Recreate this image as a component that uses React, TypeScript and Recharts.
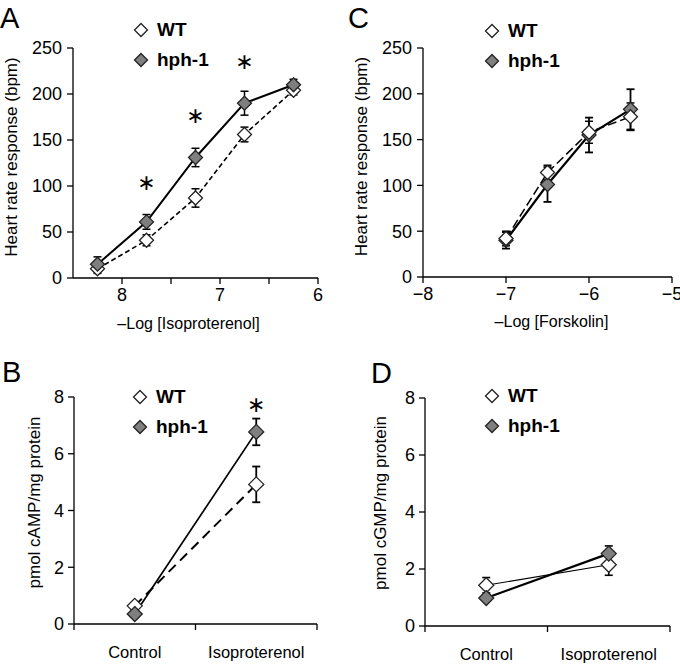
import React from 'react';
import { LineChart, Line, XAxis, YAxis, ErrorBar, ReferenceDot, Legend } from 'recharts';

const FONT = '"Liberation Sans", Arial, Helvetica, sans-serif';

// ---------- Panel A: heart rate vs -log[isoproterenol]
const isoDoses = [8.25, 7.75, 7.25, 6.75, 6.25];
const isoWT = [10, 41, 87, 156, 204];
const isoWTErr = [5, 6, 10, 8, 5];
const isoHph = [15, 61, 131, 190, 210];
const isoHphErr = [8, 8, 10, 13, 6];
const isoStarX = [7.75, 7.25, 6.75];
const isoStarY = [102, 175, 234];
const isoTicks = [8, 7.5, 7, 6.5, 6];
const isoLabelledTicks = [8, 7, 6];

// ---------- Panel C: heart rate vs -log[forskolin]
const forsDoses = [-7, -6.5, -6, -5.5];
const forsWT = [42, 114, 158, 175];
const forsWTErr = [8, 8, 12, 15];
const forsHph = [40, 101, 155, 183];
const forsHphErr = [9, 19, 19, 22];
const forsTicks = [-8, -7, -6, -5];

const hrTicks = [0, 50, 100, 150, 200, 250];

// ---------- Panels B and D: cAMP / cGMP
const groups = ['Control', 'Isoproterenol'];
const campWT = [0.64, 4.92];
const campWTErr = [0.1, 0.63];
const campHph = [0.35, 6.77];
const campHphErr = [0.1, 0.47];
const campStarGroup = [1];
const campStarY = [7.67];

const cgmpWT = [1.43, 2.15];
const cgmpWTErr = [0.27, 0.37];
const cgmpHph = [0.98, 2.54];
const cgmpHphErr = [0.1, 0.27];

const pmolTicks = [0, 2, 4, 6, 8];

const seriesNames = ['WT', 'hph-1'];
const seriesFills = ['#ffffff', '#7f7f7f'];

// ---------- data tables
const isoData = isoDoses.map((x, i) => ({ x, wt: isoWT[i], wtErr: isoWTErr[i], hph: isoHph[i], hphErr: isoHphErr[i] }));
const forsData = forsDoses.map((x, i) => ({ x, wt: forsWT[i], wtErr: forsWTErr[i], hph: forsHph[i], hphErr: forsHphErr[i] }));
const campData = groups.map((g, i) => ({ x: i + 0.5, wt: campWT[i], wtErr: campWTErr[i], hph: campHph[i], hphErr: campHphErr[i] }));
const cgmpData = groups.map((g, i) => ({ x: i + 0.5, wt: cgmpWT[i], wtErr: cgmpWTErr[i], hph: cgmpHph[i], hphErr: cgmpHphErr[i] }));
const groupTicks = [0, 0.5, 1, 1.5, 2];

const AX = '#000';
const tickStyle = { fill: '#000', fontSize: 18, fontFamily: FONT };
const axisLine = { stroke: AX, strokeWidth: 1.3 };
const tickLine = { stroke: AX, strokeWidth: 1.3 };

const diamondDot = (fill: string, r: number) => (p: any) => {
  if (p == null || p.cx == null || p.cy == null) return <g key={`n${p?.index}`} />;
  const { cx, cy } = p;
  return (
    <polygon
      key={`d${p.index}`}
      points={`${cx},${cy - r} ${cx + r},${cy} ${cx},${cy + r} ${cx - r},${cy}`}
      fill={fill}
      stroke="#222"
      strokeWidth={1.3}
    />
  );
};

const LegendBox = () => (
  <div style={{ fontFamily: FONT, fontWeight: 'bold', fontSize: 19, color: '#000' }}>
    {seriesNames.map((n, i) => (
      <div key={n} style={{ display: 'flex', alignItems: 'center', height: 30 }}>
        <svg width={16} height={16} style={{ display: 'block' }}>
          <polygon points="8,1.5 14.5,8 8,14.5 1.5,8" fill={seriesFills[i]} stroke="#222" strokeWidth={1.3} />
        </svg>
        <span style={{ marginLeft: 8, lineHeight: '30px' }}>{n}</span>
      </div>
    ))}
  </div>
);

const TICK = 6;
const GROUP_MARGIN = 16;
const GroupTick = (props: any) => {
  const { x, y, payload } = props;
  const v = payload.value;
  const axisY = y - TICK - GROUP_MARGIN;
  if (Number.isInteger(v)) {
    return <line x1={x} x2={x} y1={axisY} y2={axisY + TICK} stroke={AX} strokeWidth={1.3} />;
  }
  return (
    <text x={x} y={y} dy="0.71em" textAnchor="middle" fontSize={16.5} fontFamily={FONT} fill="#000">
      {groups[Math.floor(v)]}
    </text>
  );
};

const starLabel = { value: '\u2217', position: 'center' as const, fontSize: 22, fontFamily: '"DejaVu Sans", sans-serif', fill: '#000', dy: -2 };

const minus = (v: number) => (v < 0 ? `\u2212${Math.abs(v)}` : `${v}`);

export default function App() {
  return (
    <div style={{ position: 'absolute', left: 0, top: 0, width: 680, height: 665, background: '#fff', fontFamily: FONT }}>
      {/* Panel A */}
      <div style={{ position: 'absolute', left: 0, top: 0 }}>
        <LineChart width={340} height={340} data={isoData} margin={{ top: 48, right: 22, left: 0, bottom: 32 }}>
          <XAxis
            dataKey="x"
            type="number"
            domain={[6, 8.5]}
            reversed
            ticks={isoTicks}
            interval={0}
            tickFormatter={(v: number) => (isoLabelledTicks.includes(v) ? `${v}` : '')}
            tick={tickStyle}
            axisLine={axisLine}
            tickLine={tickLine}
            tickSize={TICK}
            tickMargin={4}
            height={30}
            label={{ value: '\u2013Log [Isoproterenol]', position: 'bottom', offset: 10, dx: -7, fontSize: 16, fontFamily: FONT, fill: '#000' }}
          />
          <YAxis
            type="number"
            domain={[0, 250]}
            ticks={hrTicks}
            interval={0}
            width={73}
            tick={tickStyle}
            axisLine={axisLine}
            tickLine={tickLine}
            tickSize={TICK}
            tickMargin={5}
            label={{ value: 'Heart rate response (bpm)', angle: -90, position: 'insideLeft', offset: 11, dy: -6, style: { textAnchor: 'middle' }, fontSize: 17, fontFamily: FONT, fill: '#000' }}
          />
          <Legend layout="vertical" align="center" verticalAlign="middle" wrapperStyle={{ left: 133, top: 15, width: 120 }} content={() => <LegendBox />} />
          <Line type="linear" dataKey="wt" name={seriesNames[0]} stroke="#000" strokeWidth={1.6} strokeDasharray="5 3" dot={diamondDot(seriesFills[0], 7)} isAnimationActive={false}>
            <ErrorBar dataKey="wtErr" width={4} stroke="#000" strokeWidth={1.5} direction="y" />
          </Line>
          <Line type="linear" dataKey="hph" name={seriesNames[1]} stroke="#000" strokeWidth={2} dot={diamondDot(seriesFills[1], 7)} isAnimationActive={false}>
            <ErrorBar dataKey="hphErr" width={4} stroke="#000" strokeWidth={1.5} direction="y" />
          </Line>
          {isoStarX.map((sx, i) => (
            <ReferenceDot key={`sa${i}`} x={sx} y={isoStarY[i]} r={0} fill="none" stroke="none" label={starLabel} />
          ))}
        </LineChart>
      </div>

      {/* Panel C */}
      <div style={{ position: 'absolute', left: 340, top: 0 }}>
        <LineChart width={340} height={340} data={forsData} margin={{ top: 48, right: 8, left: 0, bottom: 33 }}>
          <XAxis
            dataKey="x"
            type="number"
            domain={[-8, -5]}
            ticks={forsTicks}
            interval={0}
            tickFormatter={minus}
            tick={tickStyle}
            axisLine={axisLine}
            tickLine={tickLine}
            tickSize={TICK}
            tickMargin={4}
            height={30}
            label={{ value: '\u2013Log [Forskolin]', position: 'bottom', offset: 9, dx: 4, fontSize: 16, fontFamily: FONT, fill: '#000' }}
          />
          <YAxis
            type="number"
            domain={[0, 250]}
            ticks={hrTicks}
            interval={0}
            width={83}
            tick={tickStyle}
            axisLine={axisLine}
            tickLine={tickLine}
            tickSize={TICK}
            tickMargin={5}
            label={{ value: 'Heart rate response (bpm)', angle: -90, position: 'insideLeft', offset: 21, dy: -6, style: { textAnchor: 'middle' }, fontSize: 17, fontFamily: FONT, fill: '#000' }}
          />
          <Legend layout="vertical" align="center" verticalAlign="middle" wrapperStyle={{ left: 144, top: 16, width: 120 }} content={() => <LegendBox />} />
          <Line type="linear" dataKey="hph" name={seriesNames[1]} stroke="#000" strokeWidth={2.2} dot={diamondDot(seriesFills[1], 7)} isAnimationActive={false}>
            <ErrorBar dataKey="hphErr" width={4} stroke="#000" strokeWidth={1.8} direction="y" />
          </Line>
          <Line type="linear" dataKey="wt" name={seriesNames[0]} stroke="#000" strokeWidth={1.5} strokeDasharray="9 4" dot={diamondDot(seriesFills[0], 7)} isAnimationActive={false}>
            <ErrorBar dataKey="wtErr" width={4} stroke="#000" strokeWidth={1.5} direction="y" />
          </Line>
        </LineChart>
      </div>

      {/* Panel B */}
      <div style={{ position: 'absolute', left: 0, top: 340 }}>
        <LineChart width={340} height={325} data={campData} margin={{ top: 57, right: 23, left: 0, bottom: 11 }}>
          <XAxis
            dataKey="x"
            type="number"
            domain={[0, 2]}
            ticks={groupTicks}
            interval={0}
            tick={<GroupTick />}
            axisLine={axisLine}
            tickLine={false}
            tickSize={TICK}
            tickMargin={GROUP_MARGIN}
            height={30}
          />
          <YAxis
            type="number"
            domain={[0, 8]}
            ticks={pmolTicks}
            interval={0}
            width={74}
            tick={tickStyle}
            axisLine={axisLine}
            tickLine={tickLine}
            tickSize={TICK}
            tickMargin={4}
            label={{ value: 'pmol cAMP/mg protein', angle: -90, position: 'insideLeft', offset: 34, dy: -8, style: { textAnchor: 'middle' }, fontSize: 17, fontFamily: FONT, fill: '#000' }}
          />
          <Legend layout="vertical" align="center" verticalAlign="middle" wrapperStyle={{ left: 132, top: 42, width: 120 }} content={() => <LegendBox />} />
          <Line type="linear" dataKey="wt" name={seriesNames[0]} stroke="#000" strokeWidth={2} strokeDasharray="10 6" dot={diamondDot(seriesFills[0], 7.5)} isAnimationActive={false}>
            <ErrorBar dataKey="wtErr" width={4} stroke="#000" strokeWidth={1.8} direction="y" />
          </Line>
          <Line type="linear" dataKey="hph" name={seriesNames[1]} stroke="#000" strokeWidth={1.7} dot={diamondDot(seriesFills[1], 7.5)} isAnimationActive={false}>
            <ErrorBar dataKey="hphErr" width={4} stroke="#000" strokeWidth={1.8} direction="y" />
          </Line>
          {campStarGroup.map((g, i) => (
            <ReferenceDot key={`sb${i}`} x={g + 0.5} y={campStarY[i]} r={0} fill="none" stroke="none" label={starLabel} />
          ))}
        </LineChart>
      </div>

      {/* Panel D */}
      <div style={{ position: 'absolute', left: 340, top: 340 }}>
        <LineChart width={340} height={325} data={cgmpData} margin={{ top: 58, right: 10, left: 0, bottom: 9 }}>
          <XAxis
            dataKey="x"
            type="number"
            domain={[0, 2]}
            ticks={groupTicks}
            interval={0}
            tick={<GroupTick />}
            axisLine={axisLine}
            tickLine={false}
            tickSize={TICK}
            tickMargin={GROUP_MARGIN}
            height={30}
          />
          <YAxis
            type="number"
            domain={[0, 8]}
            ticks={pmolTicks}
            interval={0}
            width={85}
            tick={tickStyle}
            axisLine={axisLine}
            tickLine={tickLine}
            tickSize={TICK}
            tickMargin={4}
            label={{ value: 'pmol cGMP/mg protein', angle: -90, position: 'insideLeft', offset: 40, dy: -9, style: { textAnchor: 'middle' }, fontSize: 17, fontFamily: FONT, fill: '#000' }}
          />
          <Legend layout="vertical" align="center" verticalAlign="middle" wrapperStyle={{ left: 144, top: 41, width: 120 }} content={() => <LegendBox />} />
          <Line type="linear" dataKey="wt" name={seriesNames[0]} stroke="#000" strokeWidth={1.2} dot={diamondDot(seriesFills[0], 7.5)} isAnimationActive={false}>
            <ErrorBar dataKey="wtErr" width={4} stroke="#000" strokeWidth={1.6} direction="y" />
          </Line>
          <Line type="linear" dataKey="hph" name={seriesNames[1]} stroke="#000" strokeWidth={2.2} dot={diamondDot(seriesFills[1], 7.5)} isAnimationActive={false}>
            <ErrorBar dataKey="hphErr" width={4} stroke="#000" strokeWidth={1.6} direction="y" />
          </Line>
        </LineChart>
      </div>

      {/* Panel letters */}
      <svg width={680} height={665} style={{ position: 'absolute', left: 0, top: 0, pointerEvents: 'none' }}>
        <text x={0} y={28} fontSize={29} fontFamily={FONT} fill="#000">A</text>
        <text x={348} y={28} fontSize={29} fontFamily={FONT} fill="#000">C</text>
        <text x={2} y={382} fontSize={29} fontFamily={FONT} fill="#000">B</text>
        <text x={371} y={383} fontSize={29} fontFamily={FONT} fill="#000">D</text>
      </svg>
    </div>
  );
}
